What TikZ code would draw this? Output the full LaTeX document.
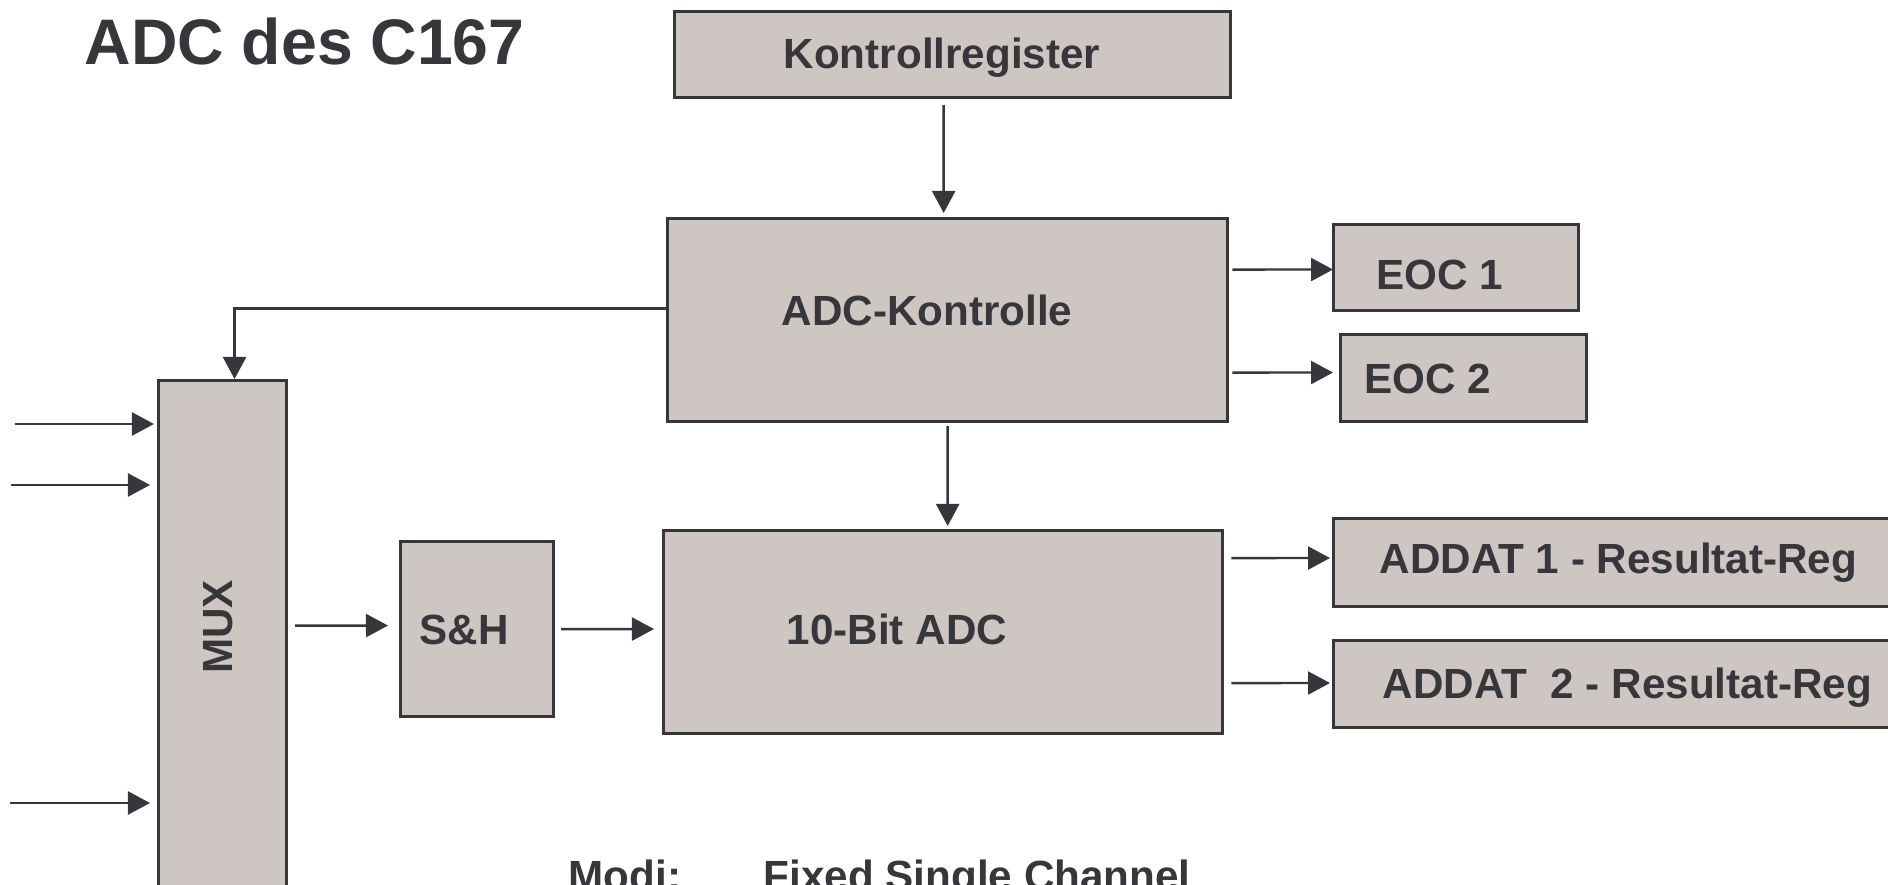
\documentclass[tikz,border=0pt]{standalone}
\usepackage{fontspec}
\setmainfont{Liberation Sans}
\usetikzlibrary{positioning, arrows.meta, calc}
\definecolor{inkgray}{RGB}{54,54,59}
\definecolor{boxgray}{RGB}{205,198,195}

\begin{document}
\begin{tikzpicture}[x=0.01cm, y=-0.01cm,
    blk/.style = {rectangle, draw=inkgray, fill=boxgray, line width=0.03cm,
      anchor=north west, inner sep=0pt},
    lbl/.style = {anchor=base west, inner sep=0pt, text=inkgray,
      font=\fontsize{12}{14}\selectfont\bfseries},
    arr/.style = {draw=inkgray, line width=0.024cm,
      -{Triangle[length=0.22cm, width=0.23cm]}},
  ]
\useasboundingbox (0,0) rectangle (1888,885);

\node[lbl, font=\fontsize{18.3}{22}\selectfont\bfseries] (title) at (84,65) {ADC des C167};

% blocks
\node[blk, minimum width=5.56cm, minimum height=0.86cm] (ctrlreg) at (673,10) {};
\node[blk, minimum width=5.60cm, minimum height=2.03cm] (adcctl) at (666,217) {};
\node[blk, minimum width=2.45cm, minimum height=0.86cm] (eoc1) at (1332,223) {};
\node[blk, minimum width=2.46cm, minimum height=0.87cm] (eoc2) at (1339,333) {};
\node[blk, minimum width=1.28cm, minimum height=5.30cm] (mux) at (157,379) {};
\node[blk, minimum width=1.53cm, minimum height=1.75cm] (sh) at (399,540) {};
\node[blk, minimum width=5.59cm, minimum height=2.03cm] (adc) at (662,529) {};
\node[blk, minimum width=6.00cm, minimum height=0.88cm] (addat1) at (1332,517) {};
\node[blk, minimum width=6.00cm, minimum height=0.87cm] (addat2) at (1332,639) {};

% labels
\node[lbl] (ctrlreg-txt) at (783,69) {Kontrollregister};
\node[lbl] (adcctl-txt) at (781,325) {ADC-Kontrolle};
\node[lbl] (eoc1-txt) at (1376,289) {EOC 1};
\node[lbl] (eoc2-txt) at (1364,393) {EOC 2};
\node[lbl, anchor=center, rotate=90] (mux-txt) at (218,627) {MUX};
\node[lbl] (sh-txt) at (419,644) {S\&H};
\node[lbl] (adc-txt) at (786,644) {10-Bit ADC};
\node[lbl] (addat1-txt) at (1379,573) {ADDAT 1 - Resultat-Reg};
\node[lbl] (addat2-txt) at (1382,698) {ADDAT\ \ 2 - Resultat-Reg};
\node[lbl] (modi) at (568,890) {Modi:};
\node[lbl] (modi-val) at (763,890) {Fixed Single Channel};

% inputs
\coordinate (in1) at (15,424);
\coordinate (in2) at (11,485);
\coordinate (in3) at (10,803);

% connections
\draw[arr] ([shift={(-9,6)}]ctrlreg.south) -- ([shift={(-4,-4)}]adcctl.north);
\draw[arr] ([shift={(0,3)}]adcctl.south) -- ([shift={(4.5,-3)}]adc.north);
\draw[arr] ([shift={(0,-11.5)}]adcctl.west) -| ([shift={(12,0)}]mux.north);
\draw[arr] ([shift={(3,-50.5)}]adcctl.east) -- ([shift={(1,2)}]eoc1.west);
\draw[arr] ([shift={(3,52.5)}]adcctl.east) -- ([shift={(-6,-5.5)}]eoc2.west);
\draw[arr] ([shift={(7,-74)}]adc.east) -- ([shift={(-2,-4.5)}]addat1.west);
\draw[arr] ([shift={(7,51)}]adc.east) -- ([shift={(-2,-1)}]addat2.west);
\draw[arr] ([shift={(7,-20)}]mux.east) -- ([shift={(-11,-3.5)}]sh.west);
\draw[arr] ([shift={(6,0)}]sh.east) -- ([shift={(-8,-3)}]adc.west);
\draw[arr] (in1) -- ($(mux.west |- in1)+(-3,0)$);
\draw[arr] (in2) -- ($(mux.west |- in2)+(-7,0)$);
\draw[arr] (in3) -- ($(mux.west |- in3)+(-7,0)$);
\end{tikzpicture}
\end{document}
